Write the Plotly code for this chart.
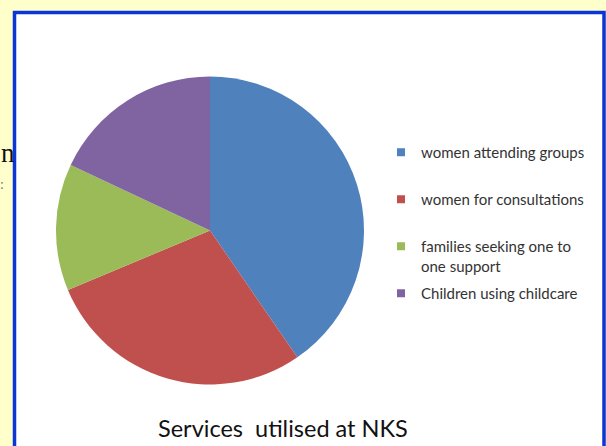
import plotly.graph_objects as go

labels = ["women attending groups", "women for consultations",
          "families seeking one to<br>one support", "Children using childcare"]
values = [40.4, 28.3, 13.3, 18.0]
colors = ["#4F81BD", "#C0504D", "#9BBB59", "#8064A2"]
title_text = "Services  utilised at NKS"

W, H = 606, 446
fig = go.Figure()

cx, cy, r = 210, 230.5, 154
fig.add_trace(go.Pie(
    labels=labels, values=values, sort=False, direction="clockwise", rotation=0,
    marker=dict(colors=colors, line=dict(width=0)), textinfo="none",
    showlegend=False, hoverinfo="label+percent",
    domain=dict(x=[(cx - r) / W, (cx + r) / W], y=[(H - cy - r) / H, (H - cy + r) / H]),
))

for i, (lab, col) in enumerate(zip(labels, colors)):
    # pad single-line entries to two lines so every entry has equal height
    shown = lab if "<br>" in lab else lab + "<br> "
    fig.add_trace(go.Scatter(
        x=[None], y=[None], mode="markers", name=shown, legendgroup=str(i),
        marker=dict(symbol="square", size=8, color=col),
    ))

fig.update_layout(
    width=W, height=H, margin=dict(l=0, r=0, t=0, b=0),
    paper_bgcolor="#FFFFCC", plot_bgcolor="rgba(0,0,0,0)",
    xaxis=dict(visible=False), yaxis=dict(visible=False),
    legend=dict(x=381 / W, y=1 - 136 / H, xanchor="left", yanchor="top",
                font=dict(family="Lato", size=15, color="#333333"),
                tracegroupgap=5, bgcolor="rgba(0,0,0,0)", valign="top"),
    shapes=[dict(type="rect", xref="paper", yref="paper",
                 x0=14.5 / W, x1=604 / W, y0=-0.05, y1=1 - 12.5 / H,
                 line=dict(color="#0A36D6", width=3.5), fillcolor="white", layer="below")],
    annotations=[
        dict(text=title_text, x=283 / W, y=1 - 428 / H, xref="paper", yref="paper",
             showarrow=False, font=dict(family="Lato", size=23.5, color="#111111"),
             xanchor="center", yanchor="middle"),
        dict(text="n", x=-1 / W, y=1 - 153 / H, xref="paper", yref="paper", showarrow=False,
             font=dict(family="Liberation Serif", size=27, color="#111111"),
             xanchor="left", yanchor="middle"),
        dict(text=":", x=-2 / W, y=1 - 184 / H, xref="paper", yref="paper", showarrow=False,
             font=dict(family="Liberation Serif", size=14, color="#777777"),
             xanchor="left", yanchor="middle"),
    ],
)

fig.write_html("out.html")
